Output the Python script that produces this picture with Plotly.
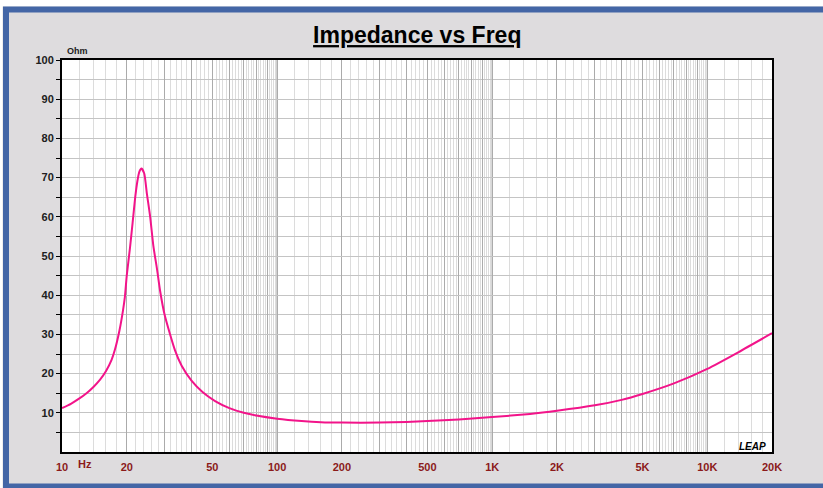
import plotly.graph_objects as go

# ---- data ----
freq_hz = [10, 11, 12, 13, 14, 15, 16, 17, 17.6, 18.5, 19.2, 19.6, 20.0, 20.7, 21.3, 21.9, 22.4,
           22.9, 23.4, 24.1, 24.8, 25.7, 26.6, 27.7, 28.6, 30, 33.5, 36, 40, 45, 51.5, 60, 70,
           80, 100, 130, 160, 200, 300, 400, 500, 700, 1000, 1500, 2000, 3000, 4000, 5000,
           7000, 10000, 14000, 20000]
impedance_ohm = [11.2, 12.3, 13.6, 15.0, 16.6, 18.4, 20.6, 23.5, 26, 31, 36, 39.5, 45, 52, 58.5,
                 65, 69, 71.5, 72.3, 71.1, 66, 60, 52.5, 46.4, 41, 35, 26, 22, 18.2, 15.3, 13.0,
                 11.2, 10.0, 9.3, 8.5, 7.9, 7.6, 7.5, 7.5, 7.65, 7.9, 8.3, 8.9, 9.7, 10.5, 11.9,
                 13.3, 14.8, 17.5, 21.2, 25.5, 30.3]

x_label_vals = [10, 20, 50, 100, 200, 500, 1000, 2000, 5000, 10000, 20000]
x_label_text = ["10", "20", "50", "100", "200", "500", "1K", "2K", "5K", "10K", "20K"]
y_label_vals = [10, 20, 30, 40, 50, 60, 70, 80, 90, 100]
y_label_text = ["10", "20", "30", "40", "50", "60", "70", "80", "90", "100"]
decades = [10, 100, 1000, 10000]

# ---- grid construction ----
major_x, major_txt = [], []
minor_x = []
for d in decades:
    for m in range(1, 10):
        v = m * d
        major_x.append(v)
        major_txt.append(x_label_text[x_label_vals.index(v)] if v in x_label_vals else "")
    for k in range(12, 100, 2):
        if k % 10 != 0:
            minor_x.append(k * d / 10)
major_x.append(20000)
major_txt.append("20K")
minor_x = [v for v in minor_x if v <= 20000]

# pixel helpers (plot area 62..772 x 60..452)
L, R, T, B = 62, 772, 60, 452
def px(x):
    return (x - L) / (R - L)
def py(y):
    return (B - y) / (B - T)

fig = go.Figure()
fig.add_trace(go.Scatter(x=freq_hz, y=impedance_ohm, mode="lines",
                         line=dict(color="#F2148A", width=2, shape="spline", smoothing=0.6),
                         hoverinfo="skip", showlegend=False))

font_family = "Liberation Sans, Arial, sans-serif"

fig.update_layout(
    width=823, height=488,
    margin=dict(l=L, r=823 - R, t=T, b=488 - B, pad=0),
    paper_bgcolor="#DEDCDE",
    plot_bgcolor="white",
    title=dict(text="<u>Impedance vs Freq</u>", x=0.507, xanchor="center",
               y=1 - 35 / 488, yanchor="middle",
               font=dict(family=font_family, size=23, color="black", weight="bold")),
    xaxis=dict(type="log", range=[1, 4.30103], tickmode="array", tickvals=major_x,
               ticktext=major_txt, showgrid=True, gridcolor="#ABABAB", gridwidth=1,
               ticks="", showline=True, linecolor="black", linewidth=2, mirror=True,
               tickfont=dict(family=font_family, size=11, color="#8B1A1A", weight="bold"),
               zeroline=False, ticklabelstandoff=4,
               minor=dict(tickmode="array", tickvals=minor_x, showgrid=True,
                          gridcolor="#DCDCDC", gridwidth=1, ticks="")),
    yaxis=dict(range=[0, 100], tickmode="array", tickvals=y_label_vals, ticktext=y_label_text,
               showgrid=True, gridcolor="#C4C4C4", gridwidth=1, ticks="outside", ticklen=4,
               tickcolor="black", showline=True, linecolor="black", linewidth=2, mirror=True,
               tickfont=dict(family=font_family, size=11, color="#202020", weight="bold"),
               zeroline=False,
               minor=dict(tickmode="array", tickvals=[5, 15, 25, 35, 45, 55, 65, 75, 85, 95],
                          showgrid=True, gridcolor="#C4C4C4", gridwidth=1,
                          ticks="outside", ticklen=4, tickcolor="black")),
)

# decade lines (darker)
for d in decades[1:]:
    fig.add_shape(type="line", x0=d, x1=d, xref="x", y0=0, y1=1, yref="y domain",
                  line=dict(color="#8C8C8C", width=1), layer="below")

# outer frame
fig.add_shape(type="rect", xref="paper", yref="paper", x0=px(-5), x1=px(830), y0=py(-5), y1=py(6.5),
              fillcolor="white", line=dict(width=0), layer="above")
fig.add_shape(type="rect", xref="paper", yref="paper", x0=px(-5), x1=px(2.5), y0=py(-5), y1=py(495),
              fillcolor="white", line=dict(width=0), layer="above")
fig.add_shape(type="rect", xref="paper", yref="paper", x0=px(6), x1=px(835), y0=py(9.5), y1=py(486.5),
              line=dict(color="#4466A6", width=6), fillcolor="rgba(0,0,0,0)", layer="above")

# annotations
fig.add_annotation(text="<b>Ohm</b>", xref="paper", yref="paper", x=px(65), y=py(51),
                   xanchor="left", yanchor="middle", showarrow=False,
                   font=dict(family=font_family, size=9, color="#202020"))
fig.add_annotation(text="<b>Hz</b>", xref="paper", yref="paper", x=px(76), y=py(464),
                   xanchor="left", yanchor="middle", showarrow=False,
                   font=dict(family=font_family, size=11, color="#8B1A1A"))
fig.add_annotation(text="<b><i>LEAP</i></b>", xref="paper", yref="paper", x=px(768), y=py(446),
                   xanchor="right", yanchor="middle", showarrow=False,
                   font=dict(family=font_family, size=10, color="black"))

fig.write_html("out.html", config={"displayModeBar": False},
               post_script="document.body.style.margin='0';")
